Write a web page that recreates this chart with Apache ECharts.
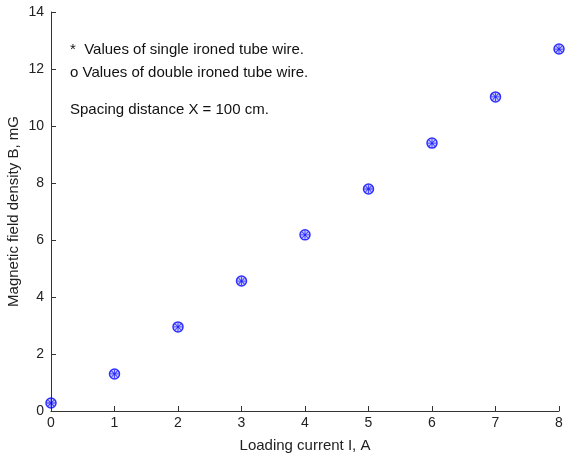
<!DOCTYPE html>
<html lang="en">
<head>
    <meta charset="UTF-8">
    <title>Magnetic field density</title>
    <script type="text/javascript" src="https://cdn.jsdelivr.net/npm/echarts@6/dist/echarts.min.js"></script>
    <style>
        html, body { margin: 0; padding: 0; background: #fff; }
        #charts { width: 565px; height: 461px; }
    </style>
</head>
<body>
<div id="charts"></div>
<script>
    // loading current I (A)
    var current = [0, 1, 2, 3, 4, 5, 6, 7, 8]
    // single ironed tube wire (*)
    var singleWire = [0.28, 1.3, 2.95, 4.56, 6.18, 7.79, 9.4, 11.02, 12.7]
    // double ironed tube wire (o)
    var doubleWire = [0.28, 1.3, 2.95, 4.56, 6.18, 7.79, 9.4, 11.02, 12.7]
    var xTicks = [0, 1, 2, 3, 4, 5, 6, 7, 8]
    var yTicks = [0, 2, 4, 6, 8, 10, 12, 14]

    function pairs(xs, ys) {
        var out = []
        for (var i = 0; i < xs.length; i++) out.push([xs[i], ys[i]])
        return out
    }

    var star = 'path://M4.5 0L5.5 0L5.5 10L4.5 10Z M0 4.5L10 4.5L10 5.5L0 5.5Z ' +
        'M1.1 1.8L1.8 1.1L8.9 8.2L8.2 8.9Z M8.2 1.1L8.9 1.8L1.8 8.9L1.1 8.2Z'
    var font = 'Liberation Sans'
    var fs = 15   // names and notes
    var tfs = 14  // tick labels

    var chart = echarts.init(document.getElementById("charts"), null, {renderer: 'canvas'})
    chart.setOption({
        animation: false,
        backgroundColor: '#fff',
        textStyle: {fontFamily: font},
        grid: {left: 51, right: 6, top: 12, bottom: 50, containLabel: false, outerBoundsMode: 'none'},
        xAxis: {
            type: 'value', min: 0, max: 8, interval: 1,
            name: 'Loading current I, A', nameLocation: 'middle', nameGap: 27, nameMoveOverlap: false,
            nameTextStyle: {color: '#222', fontSize: fs, fontFamily: font},
            axisLine: {show: true, lineStyle: {color: '#333', width: 1}},
            axisTick: {show: true, inside: true, length: 5, lineStyle: {color: '#333'}},
            axisLabel: {color: '#222', fontSize: tfs, margin: 5, fontFamily: font,
                formatter: function (v) { return xTicks.indexOf(v) >= 0 ? String(v) : '' }},
            splitLine: {show: false}
        },
        yAxis: {
            type: 'value', min: 0, max: 14, interval: 2,
            name: 'Magnetic field density B, mG', nameLocation: 'middle', nameGap: 30, nameMoveOverlap: false,
            nameTextStyle: {color: '#222', fontSize: fs, fontFamily: font},
            axisLine: {show: true, lineStyle: {color: '#333', width: 1}},
            axisTick: {show: true, inside: true, length: 5, lineStyle: {color: '#333'}},
            axisLabel: {color: '#222', fontSize: tfs, margin: 7, fontFamily: font,
                formatter: function (v) { return yTicks.indexOf(v) >= 0 ? String(v) : '' }},
            splitLine: {show: false}
        },
        graphic: [
            {type: 'text', left: 70, top: 42, style: {text: '*  Values of single ironed tube wire.', fill: '#111', font: fs + 'px "Liberation Sans"'}},
            {type: 'text', left: 70, top: 65, style: {text: 'o Values of double ironed tube wire.', fill: '#111', font: fs + 'px "Liberation Sans"'}},
            {type: 'text', left: 70, top: 102, style: {text: 'Spacing distance X = 100 cm.', fill: '#111', font: fs + 'px "Liberation Sans"'}}
        ],
        series: [
            {
                name: 'double', type: 'scatter', data: pairs(current, doubleWire),
                symbol: 'circle', symbolSize: 10,
                itemStyle: {color: 'rgba(60,60,255,0.35)', borderColor: '#0000ff', borderWidth: 1.5}
            },
            {
                name: 'single', type: 'scatter', data: pairs(current, singleWire),
                symbol: star, symbolSize: 8,
                itemStyle: {color: '#0000ff'}
            }
        ]
    })
</script>
</body>
</html>
